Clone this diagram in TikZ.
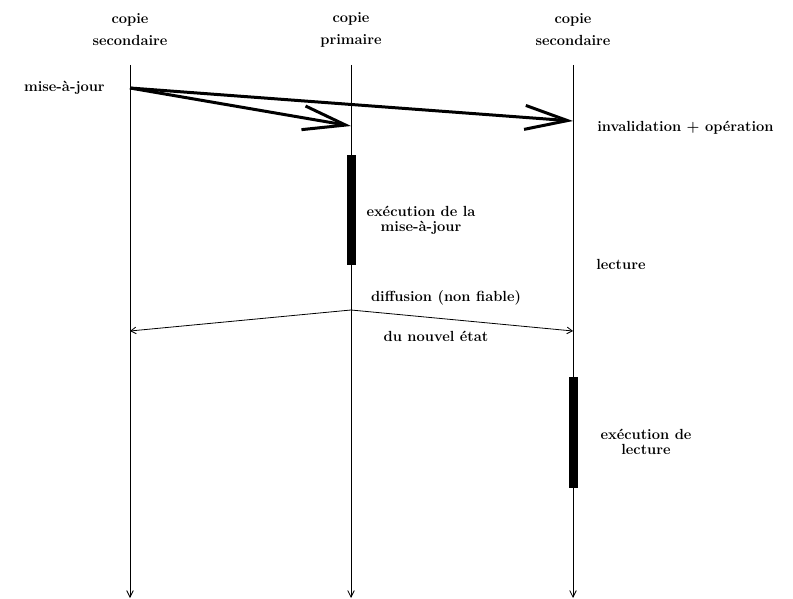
\documentclass[tikz,border=0pt]{standalone}
\usepackage{tikz}
\usetikzlibrary{arrows.meta,positioning}

\begin{document}
\begin{tikzpicture}[x=0.75pt,y=-0.75pt,
		lbl/.style={font=\bfseries\fontsize{11}{11}\selectfont,align=center,inner sep=0pt},
		life/.style={line width=0.6pt,-{Straight Barb[length=5pt,width=5pt]}},
		msg/.style={line width=2.25pt,-{Straight Barb[length=32pt,width=18pt]}},
		bcast/.style={line width=0.6pt,-{Straight Barb[length=4pt,width=5pt]}}]
		\useasboundingbox (0,0) rectangle (793,599);
		% en-tetes
		\node[lbl] (secA) at (130,30) {copie\\[5.5pt]secondaire};
		\node[lbl] (prim) at (351,30) {copie\\[5.5pt]primaire};
		\node[lbl] (secB) at (573,30) {copie\\[5.5pt]secondaire};
		% lignes de vie
		\coordinate (aTop) at (130,65);
		\coordinate (aBot) at (130,598);
		\coordinate (pTop) at (351,65);
		\coordinate (pBot) at (351,598);
		\coordinate (bTop) at (573,65);
		\coordinate (bBot) at (573,598);
		\draw[life] (aTop) -- (aBot);
		\draw[life] (pTop) -- (pBot);
		\draw[life] (bTop) -- (bBot);
		% mise-a-jour
		\coordinate (upd) at (130,88);
		\coordinate (updP) at (351,126);
		\coordinate (updB) at (573,121);
		\draw[msg] (upd) -- (updP);
		\draw[msg] (upd) -- (updB);
		\node[lbl,anchor=east] (maj) at (105,88) {mise-à-jour};
		\node[lbl,anchor=west] (inv) at (597,128) {invalidation + opération};
		% executions
		\fill (347,155) rectangle (356,265);
		\fill (569,377) rectangle (578,488);
		\node[lbl] (exeP) at (421,220) {exécution de la\\mise-à-jour};
		\node[lbl,anchor=west] (lect) at (596,264) {lecture};
		\node[lbl] (exeB) at (646,442) {exécution de\\lecture};
		% diffusion
		\coordinate (diff) at (351,310);
		\coordinate (diffA) at (130,331);
		\coordinate (diffB) at (573,331);
		\draw[bcast] (diff) -- (diffA);
		\draw[bcast] (diff) -- (diffB);
		\node[lbl] (dif) at (446,298) {diffusion (non fiable)};
		\node[lbl] (etat) at (436,336) {du nouvel état};
		\end{tikzpicture}
\end{document}
